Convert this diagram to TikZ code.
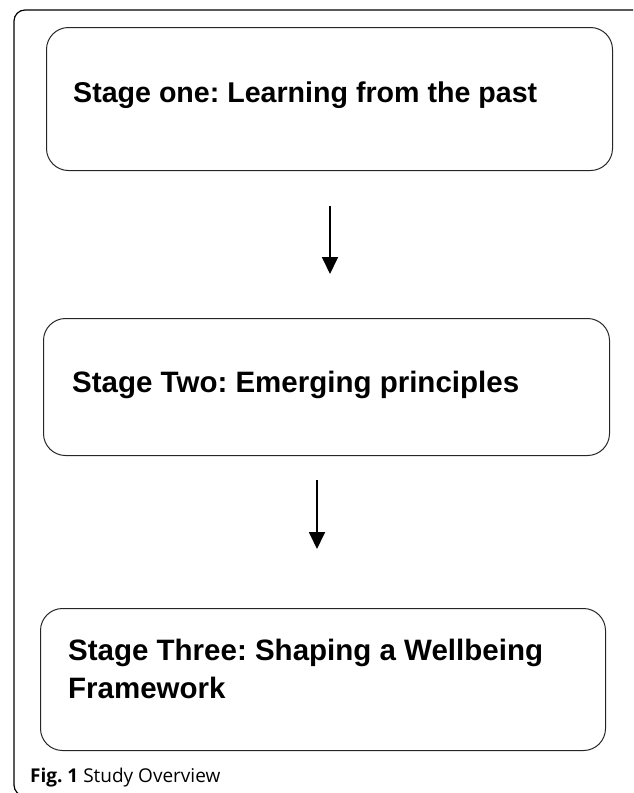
\documentclass[tikz,border=0pt]{standalone}
\usepackage{fontspec}
\setmainfont{Liberation Sans}
\newfontfamily\capfont{Open Sans}
\usetikzlibrary{arrows.meta}
\begin{document}
\frenchspacing
\begin{tikzpicture}[x=1pt,y=-1pt,
  stagebox/.style={draw=black!85,line width=1pt,rounded corners=22pt,
    minimum width=566pt,inner sep=0pt,anchor=north west},
  stagetext/.style={anchor=base west,inner sep=0pt,align=left,
    font=\fontsize{29.5}{38}\selectfont\bfseries},
  flowarrow/.style={line width=1.8pt,-{Triangle[length=17pt,width=16pt]}}]
\useasboundingbox (0,0) rectangle (633,793);
\begin{scope}
\clip (0,0) rectangle (633,793);
\draw[line width=1.2pt,rounded corners=11pt] (14,10) rectangle (645,796);
\end{scope}
\node[stagebox,minimum height=143pt] (s1) at (46,27) {};
\node[stagebox,minimum height=137pt] (s2) at (43,318) {};
\node[stagebox,minimum height=142pt,minimum width=565pt] (s3) at (40,608) {};
\node[stagetext,font=\fontsize{28.6}{38}\selectfont\bfseries] (t1) at (73,102) {Stage one: Learning from the past};
\node[stagetext] (t2) at (72,392) {Stage Two: Emerging principles};
\node[stagetext] (t3) at (68,660) {Stage Three: Shaping a Wellbeing};
\node[stagetext] (t3b) at (68,698) {Framework};
\coordinate (a1s) at (330,206);
\coordinate (a1e) at (330,274);
\coordinate (a2s) at (317,480);
\coordinate (a2e) at (317,549);
\draw[flowarrow] (a1s) -- (a1e);
\draw[flowarrow] (a2s) -- (a2e);
\node[anchor=base west,inner sep=0pt,font=\capfont\fontsize{19}{20}\selectfont] (cap) at (30,782) {\textbf{Fig. 1} Study Overview};
\end{tikzpicture}
\end{document}
